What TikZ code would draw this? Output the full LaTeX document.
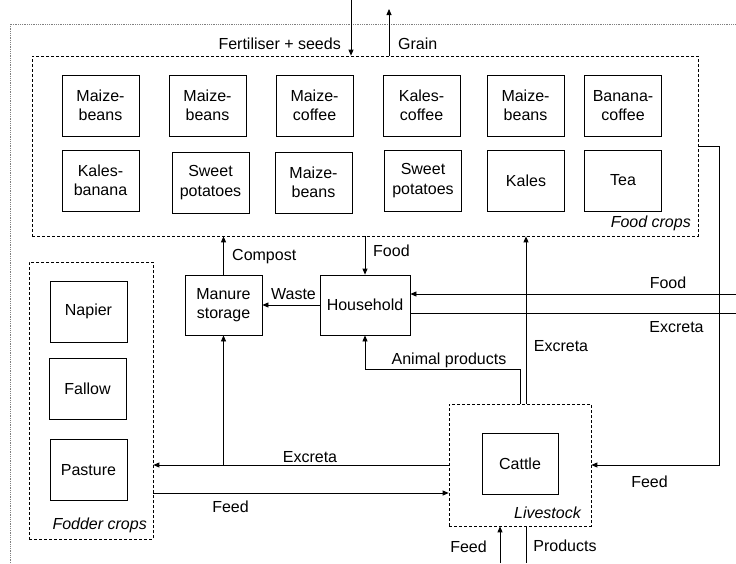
\documentclass[tikz,border=0pt]{standalone}
\usepackage{fontspec}
\setmainfont{Liberation Sans}
\usetikzlibrary{arrows.meta}
\begin{document}
\begin{tikzpicture}[x=1pt,y=-1pt,
  font=\fontsize{16}{19.5}\selectfont,
  every node/.style={inner sep=0pt},
  unit/.style={draw, line width=0.8pt, minimum width=77pt, minimum height=61pt, align=center},
  group/.style={draw, line width=0.7pt, dash pattern=on 3pt off 2pt},
  flow/.style={line width=0.8pt, -{Triangle[length=6pt,width=5pt]}},
  plain/.style={line width=0.8pt},
  tag/.style={font=\fontsize{16}{19.5}\selectfont\itshape}]
\useasboundingbox (0,0) rectangle (736,563);

% farm boundary
\draw[gray, densely dotted, line width=0.8pt] (10,563) -- (10,24) -- (736,24);

% groups
\node[group, minimum width=666pt, minimum height=180pt] (food) at (365,146) {};
\node[group, minimum width=124pt, minimum height=277pt] (fodder) at (91,400.5) {};
\node[group, minimum width=142pt, minimum height=122pt] (livestock) at (520,465) {};

% food crops
\node[unit] (c1) at (100.5,105.5) {Maize-\\beans};
\node[unit] (c2) at (207.5,105.5) {Maize-\\beans};
\node[unit] (c3) at (314.5,105.5) {Maize-\\coffee};
\node[unit] (c4) at (421.5,105.5) {Kales-\\coffee};
\node[unit] (c5) at (525.5,105.5) {Maize-\\beans};
\node[unit] (c6) at (623,105.5) {Banana-\\coffee};
\node[unit] (c7) at (100.5,180.5) {Kales-\\banana};
\node[unit] (c8) at (210.5,182.5) {Sweet\\potatoes};
\node[unit] (c9) at (313.5,182.5) {Maize-\\beans};
\node[unit] (c10) at (423,180.5) {Sweet\\potatoes};
\node[unit] (c11) at (526,180.5) {Kales};
\node[unit] (c12) at (623,180.5) {Tea};
\node[tag, anchor=east] (lfood) at (691,223) {Food crops};

% fodder crops
\node[unit] (napier) at (88.5,311.5) {Napier};
\node[unit] (fallow) at (87.5,388.5) {Fallow};
\node[unit] (pasture) at (88.5,470) {Pasture};
\node[tag, anchor=east] (lfodder) at (147,525) {Fodder crops};

% livestock
\node[unit, minimum width=76pt] (cattle) at (520,463.5) {Cattle};
\node[tag, anchor=east] (lstock) at (581,513) {Livestock};

% household and manure
\node[unit, minimum width=90pt, minimum height=60pt] (household) at (365,305) {Household};
\node[unit, minimum height=60pt] (manure) at (223.5,305) {Manure\\storage};

% free ends
\coordinate (fin) at (351,0);
\coordinate (gout) at (389,9);
\coordinate (rfood) at (736,294);
\coordinate (rexc) at (736,313);
\coordinate (loop) at (719,146);
\coordinate (apy) at (0,369);
\coordinate (feedy) at (0,493);
\coordinate (bfeed) at (500,563);
\coordinate (bprod) at (526,563);

% flows
\draw[flow] (fin) -- (fin |- food.north);
\draw[flow] (gout |- food.north) -- (gout);
\draw[flow] (household.north |- food.south) -- (household.north);
\draw[flow] (manure.north) -- (manure.north |- food.south);
\draw[flow] (household.west) -- (manure.east);
\draw[flow] (rfood) -- (rfood -| household.east);
\draw[plain] (household.east |- rexc) -- (rexc);
\draw[flow] (food.east |- loop) -- (loop) -- (loop |- livestock.east) -- (livestock.east);
\draw[flow] ([xshift=6pt]livestock.north) -- ([xshift=6pt]livestock.north |- food.south);
\draw[flow] (livestock.north) -- (livestock.north |- apy) -- (household.south |- apy) -- (household.south);
\draw[flow] (livestock.west) -- (fodder.east |- livestock.west);
\draw[flow] (manure.south |- livestock.west) -- (manure.south);
\draw[flow] (fodder.east |- feedy) -- (livestock.west |- feedy);
\draw[flow] (bfeed) -- (bfeed |- livestock.south);
\draw[plain] (bprod |- livestock.south) -- (bprod);

% flow labels
\node[anchor=east] (tfert) at (341,44) {Fertiliser + seeds};
\node[anchor=west] (tgrain) at (398,44) {Grain};
\node[anchor=west] (tcomp) at (232,257) {Compost};
\node[anchor=west] (tfood) at (373,251) {Food};
\node (twaste) at (293.5,294) {Waste};
\node (tfoodr) at (668,283) {Food};
\node (texcr) at (676.5,327) {Excreta};
\node (texcm) at (561,346) {Excreta};
\node (tanim) at (449,360) {Animal products};
\node (texcl) at (310,457) {Excreta};
\node (tfeedl) at (230.5,507) {Feed};
\node (tfeedr) at (649.5,482) {Feed};
\node (tfeedb) at (468.5,547) {Feed};
\node (tprod) at (565,546) {Products};
\end{tikzpicture}
\end{document}
